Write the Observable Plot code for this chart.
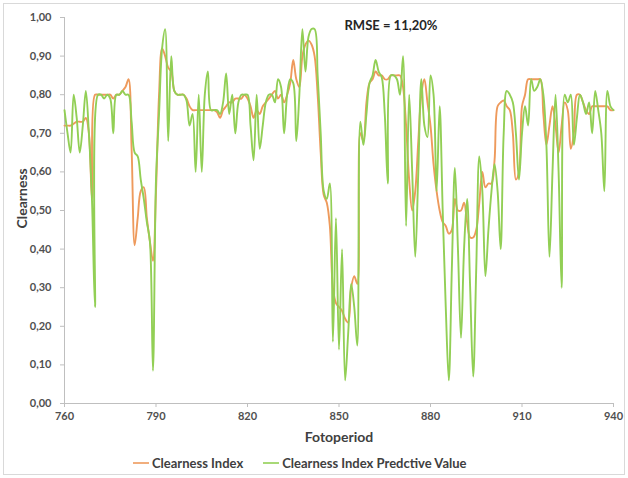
<!DOCTYPE html>
<html>
<head>
<meta charset="utf-8">
<script src="https://cdn.jsdelivr.net/npm/d3@7"></script>
<script src="https://cdn.jsdelivr.net/npm/@observablehq/plot@0.6"></script>
<style>
  body { margin: 0; background: #fff; font-family: Lato, "Open Sans", sans-serif; }
  #chart { position: relative; width: 628px; height: 478px; overflow: hidden; background: #fff; }
  #chart svg { position: absolute; left: 0; top: 0; }
  #frame { position: absolute; left: 3px; top: 3px; width: 620px; height: 470px; border: 1px solid #d9d9d9; pointer-events: none; }
  #legend { position: absolute; left: 133px; top: 455px; display: flex; align-items: center; font-size: 13px; font-weight: 700; color: #404040; white-space: nowrap; }
  #legend .item { display: flex; align-items: center; margin-right: 20px; }
  #legend .swatch { width: 16px; height: 2px; margin-right: 3px; opacity: 0.8; }
</style>
</head>
<body>
<div id="chart">
  <div id="frame"></div>
  <div id="legend"></div>
</div>
<script>
// Fotoperiod values run consecutively from this first period
const periodStart = 760;

// Measured clearness index, one value per fotoperiod (760 … 940)
const clearnessIndex = [
  0.72, 0.72, 0.72, 0.725, 0.73, 0.73, 0.73, 0.74, 0.70, 0.53,
  0.80, 0.80, 0.80, 0.80, 0.80, 0.80, 0.79, 0.80, 0.80, 0.81,
  0.82, 0.84, 0.66, 0.41, 0.48, 0.55, 0.56, 0.48, 0.42, 0.37,
  0.55, 0.80, 0.92, 0.90, 0.87, 0.86, 0.81, 0.80, 0.80, 0.80,
  0.79, 0.77, 0.76, 0.76, 0.76, 0.76, 0.76, 0.76, 0.76, 0.76,
  0.755, 0.74, 0.76, 0.77, 0.78, 0.78, 0.79, 0.79, 0.79, 0.80,
  0.79, 0.77, 0.74, 0.76, 0.75, 0.77, 0.78, 0.79, 0.80, 0.81,
  0.79, 0.80, 0.78, 0.80, 0.83, 0.89, 0.84, 0.82, 0.90, 0.93,
  0.94, 0.93, 0.90, 0.80, 0.65, 0.54, 0.52, 0.46, 0.30, 0.26,
  0.25, 0.24, 0.22, 0.21, 0.30, 0.33, 0.31, 0.70, 0.68, 0.78,
  0.83, 0.84, 0.86, 0.85, 0.85, 0.84, 0.84, 0.85, 0.85, 0.85,
  0.85, 0.82, 0.72, 0.58, 0.50, 0.55, 0.68, 0.80, 0.84, 0.78,
  0.72, 0.62, 0.55, 0.50, 0.47, 0.46, 0.44, 0.45, 0.53, 0.50,
  0.50, 0.52, 0.47, 0.43, 0.43, 0.45, 0.52, 0.60, 0.56, 0.57,
  0.57, 0.63, 0.77, 0.78, 0.785, 0.77, 0.76, 0.70, 0.58, 0.60,
  0.77, 0.80, 0.84, 0.84, 0.84, 0.84, 0.84, 0.75, 0.67, 0.72,
  0.77, 0.72, 0.65, 0.72, 0.78, 0.76, 0.66, 0.70, 0.80, 0.80,
  0.78, 0.76, 0.75, 0.77, 0.77, 0.77, 0.77, 0.77, 0.77, 0.76,
  0.76
];

// Predicted clearness index for the same fotoperiods
const predictedIndex = [
  0.76, 0.70, 0.65, 0.80, 0.74, 0.65, 0.72, 0.81, 0.70, 0.53,
  0.25, 0.80, 0.80, 0.79, 0.80, 0.79, 0.70, 0.80, 0.80, 0.81,
  0.80, 0.80, 0.73, 0.65, 0.64, 0.58, 0.53, 0.47, 0.42, 0.085,
  0.58, 0.75, 0.92, 0.97, 0.68, 0.90, 0.81, 0.80, 0.80, 0.80,
  0.785, 0.72, 0.75, 0.60, 0.80, 0.60, 0.80, 0.86, 0.76, 0.76,
  0.76, 0.75, 0.78, 0.855, 0.75, 0.80, 0.70, 0.78, 0.80, 0.80,
  0.80, 0.72, 0.63, 0.80, 0.66, 0.72, 0.78, 0.80, 0.80, 0.78,
  0.84, 0.82, 0.70, 0.80, 0.84, 0.83, 0.68, 0.80, 0.97, 0.86,
  0.95, 0.97, 0.97, 0.85, 0.70, 0.55, 0.53, 0.57, 0.16, 0.48,
  0.14, 0.40, 0.06, 0.18, 0.31, 0.25, 0.15, 0.73, 0.67, 0.75,
  0.83, 0.85, 0.89, 0.86, 0.845, 0.75, 0.57, 0.85, 0.85, 0.84,
  0.80, 0.90, 0.46, 0.80, 0.60, 0.38, 0.60, 0.84, 0.72, 0.69,
  0.85, 0.80, 0.55, 0.77, 0.50, 0.25, 0.06, 0.35, 0.61, 0.40,
  0.17, 0.40, 0.53, 0.30, 0.07, 0.35, 0.64, 0.55, 0.33, 0.45,
  0.55, 0.62, 0.55, 0.40, 0.70, 0.81, 0.80, 0.78, 0.70, 0.58,
  0.70, 0.77, 0.72, 0.84, 0.81, 0.82, 0.84, 0.80, 0.67, 0.38,
  0.60, 0.80, 0.60, 0.30, 0.80, 0.78, 0.80, 0.67, 0.74, 0.80,
  0.78, 0.75, 0.78, 0.70, 0.81, 0.76, 0.70, 0.55, 0.81, 0.77,
  0.76
];

const xTicks = [760, 790, 820, 850, 880, 910, 940];
const yTicks = [0, 0.1, 0.2, 0.3, 0.4, 0.5, 0.6, 0.7, 0.8, 0.9, 1.0];

const seriesNames = ["Clearness Index", "Clearness Index Predctive Value"];
const seriesColors = ["#ee9a5c", "#92cf55"];
const rmseLabel = "RMSE = 11,20%";

const rows = clearnessIndex.map((v, i) => ({
  period: periodStart + i,
  observed: v,
  predicted: predictedIndex[i]
}));

const axisColor = "#bfbfbf";
const textColor = "#404040";
const decimalComma = d => d.toFixed(2).replace(".", ",");

const chart = Plot.plot({
  width: 628,
  height: 450,
  marginLeft: 64,
  marginRight: 15,
  marginTop: 17,
  marginBottom: 47,
  style: { fontFamily: "Lato, 'Open Sans', sans-serif", fontSize: "11px", background: "transparent" },
  x: { domain: [760, 940] },
  y: { domain: [0, 1] },
  marks: [
    Plot.ruleY([0], { stroke: axisColor, strokeWidth: 1 }),
    Plot.ruleX([760], { stroke: axisColor, strokeWidth: 1 }),
    Plot.axisX({
      ticks: xTicks, tickFormat: d => String(d), tickSize: 4, tickPadding: 5,
      stroke: axisColor, fill: "#505050", fontWeight: 700, fontSize: 11, label: null
    }),
    Plot.axisY({
      ticks: yTicks, tickFormat: decimalComma, tickSize: 4, tickPadding: 9,
      stroke: axisColor, fill: "#505050", fontWeight: 700, fontSize: 11, label: null
    }),
    Plot.line(rows, {
      x: "period", y: "observed", stroke: seriesColors[0],
      strokeWidth: 1.9, curve: "catmull-rom"
    }),
    Plot.line(rows, {
      x: "period", y: "predicted", stroke: seriesColors[1],
      strokeWidth: 1.9, curve: "catmull-rom"
    }),
    Plot.text([rmseLabel], {
      frameAnchor: "top", lineAnchor: "middle", dx: 52, dy: 8,
      fontSize: 13, fontWeight: 700, fill: "#262626"
    }),
    Plot.text(["Fotoperiod"], {
      frameAnchor: "bottom", lineAnchor: "middle", dy: 34,
      fontSize: 14, fontWeight: 700, fill: textColor
    }),
    Plot.text(["Clearness"], {
      frameAnchor: "left", lineAnchor: "middle", rotate: -90, dx: -42, dy: 18,
      fontSize: 14, fontWeight: 700, fill: textColor
    })
  ]
});

const root = document.getElementById("chart");
root.insertBefore(chart, root.firstChild);

// Legend below the plot
const legend = document.getElementById("legend");
seriesNames.forEach((name, i) => {
  const item = document.createElement("div");
  item.className = "item";
  const sw = document.createElement("span");
  sw.className = "swatch";
  sw.style.background = seriesColors[i];
  const label = document.createElement("span");
  label.textContent = name;
  item.appendChild(sw);
  item.appendChild(label);
  legend.appendChild(item);
});
</script>
</body>
</html>
